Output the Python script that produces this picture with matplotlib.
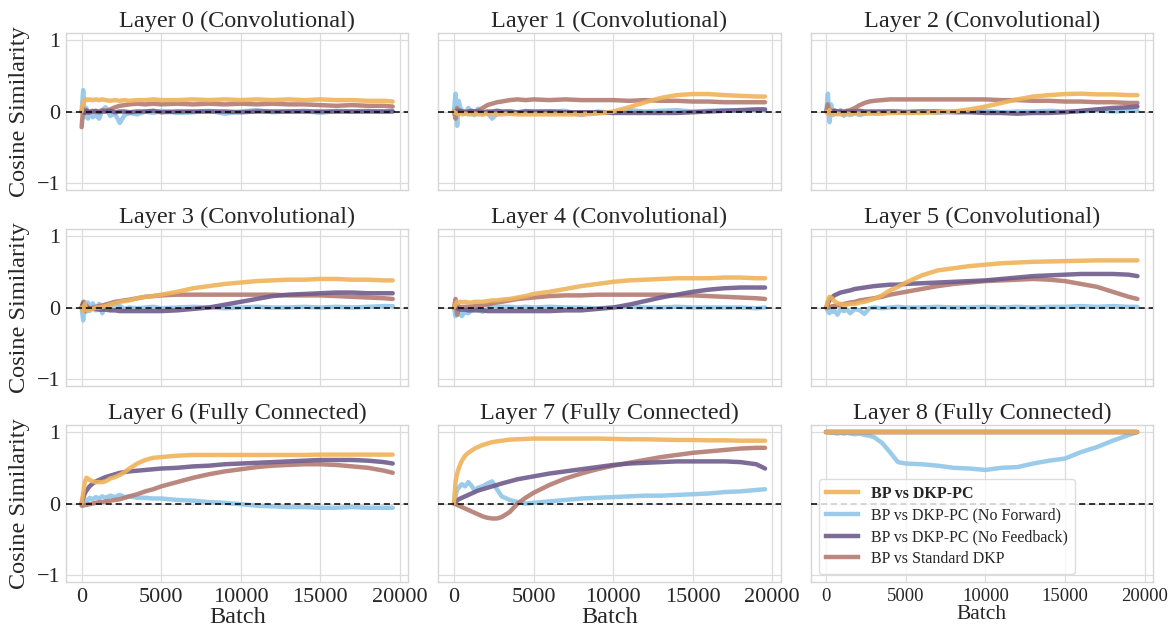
import matplotlib
matplotlib.use("Agg")
import matplotlib.pyplot as plt
from matplotlib.lines import Line2D

plt.rcParams['font.family'] = ['Liberation Serif', 'DejaVu Serif']
plt.rcParams['mathtext.fontset'] = 'stix'

BATCH = [0, 100, 200, 300, 400, 500, 700, 900, 1100, 1300, 1500, 1800, 2100, 2400, 2700,
         3000, 3500, 4000, 4500, 5000, 6000, 7000, 8000, 9000, 10000, 11000, 12000, 13000,
         14000, 15000, 16000, 17000, 18000, 19000, 19550]

TITLES = ["Layer 0 (Convolutional)", "Layer 1 (Convolutional)", "Layer 2 (Convolutional)",
          "Layer 3 (Convolutional)", "Layer 4 (Convolutional)", "Layer 5 (Convolutional)",
          "Layer 6 (Fully Connected)", "Layer 7 (Fully Connected)", "Layer 8 (Fully Connected)"]

SERIES = ["BP vs DKP-PC", "BP vs DKP-PC (No Forward)", "BP vs DKP-PC (No Feedback)", "BP vs Standard DKP"]
COLORS = ["#EFB35A", "#90C6E9", "#6F5C8C", "#B37B70"]

# ---- Layer 0 ----
L0_DKPPC = [0.0, 0.14, 0.16, 0.17, 0.16, 0.17, 0.16, 0.17, 0.16, 0.17, 0.16, 0.15, 0.16, 0.15, 0.16, 0.15, 0.16, 0.16, 0.17, 0.16, 0.16, 0.17, 0.16, 0.17, 0.16, 0.17, 0.16, 0.17, 0.16, 0.17, 0.16, 0.16, 0.15, 0.15, 0.14]
L0_NOFWD = [0.0, 0.30, -0.08, 0.05, -0.10, -0.02, -0.08, -0.05, -0.10, 0.02, 0.06, -0.06, -0.03, -0.16, -0.05, -0.02, -0.04, 0.0, -0.02, 0.01, -0.02, -0.01, 0.01, -0.03, 0.0, 0.02, -0.01, 0.0, 0.01, -0.02, 0.01, 0.0, 0.01, 0.0, 0.01]
L0_NOFB = [0.0, 0.02, -0.02, 0.01, 0.0, -0.01, 0.0, 0.01, -0.01, 0.0, 0.0, 0.01, -0.01, 0.0, 0.0, -0.01, 0.0, 0.0, 0.01, -0.01, 0.0, 0.0, 0.0, 0.0, -0.01, 0.0, 0.0, 0.0, 0.0, 0.0, 0.0, 0.0, 0.0, 0.0, 0.0]
L0_DKP = [-0.22, 0.05, 0.0, 0.02, -0.02, 0.0, 0.01, -0.01, 0.0, 0.02, 0.01, 0.03, 0.06, 0.08, 0.09, 0.10, 0.11, 0.10, 0.11, 0.10, 0.11, 0.10, 0.11, 0.10, 0.11, 0.10, 0.11, 0.10, 0.10, 0.09, 0.08, 0.09, 0.08, 0.08, 0.07]

# ---- Layer 1 ----
L1_DKPPC = [0.0, -0.02, -0.03, -0.04, -0.03, -0.04, -0.03, -0.04, -0.04, -0.03, -0.04, -0.04, -0.03, -0.04, -0.04, -0.04, -0.03, -0.04, -0.04, -0.04, -0.04, -0.04, -0.04, -0.03, 0.0, 0.06, 0.13, 0.19, 0.23, 0.245, 0.245, 0.23, 0.22, 0.21, 0.21]
L1_NOFWD = [0.0, 0.25, -0.20, 0.15, 0.05, 0.02, -0.03, 0.05, -0.02, -0.05, 0.04, -0.04, -0.02, -0.10, -0.03, -0.01, 0.0, -0.02, 0.01, -0.01, 0.0, 0.01, -0.05, 0.0, -0.02, 0.02, 0.0, 0.01, 0.02, 0.0, 0.01, 0.02, 0.01, 0.02, 0.02]
L1_NOFB = [0.0, -0.02, 0.01, 0.0, 0.01, 0.0, -0.01, 0.0, 0.01, 0.0, 0.0, -0.01, 0.0, 0.0, 0.01, 0.0, 0.0, -0.01, 0.0, 0.0, 0.0, -0.01, -0.01, -0.01, -0.02, -0.02, -0.02, -0.02, -0.02, -0.01, 0.0, 0.01, 0.02, 0.03, 0.03]
L1_DKP = [0.0, -0.10, 0.05, 0.0, 0.01, 0.0, 0.0, -0.01, 0.0, 0.0, 0.01, 0.05, 0.09, 0.11, 0.13, 0.14, 0.16, 0.17, 0.16, 0.17, 0.16, 0.17, 0.16, 0.16, 0.16, 0.15, 0.16, 0.15, 0.15, 0.14, 0.14, 0.13, 0.13, 0.13, 0.13]

# ---- Layer 2 ----
L2_DKPPC = [0.0, -0.03, 0.02, -0.04, -0.03, -0.04, -0.03, -0.04, -0.04, -0.03, -0.04, -0.03, -0.03, -0.03, -0.03, -0.03, -0.03, -0.02, -0.02, -0.02, -0.02, -0.01, 0.0, 0.03, 0.07, 0.12, 0.17, 0.21, 0.23, 0.245, 0.25, 0.24, 0.24, 0.23, 0.23]
L2_NOFWD = [0.0, 0.25, -0.15, 0.10, -0.05, 0.02, -0.04, 0.02, -0.06, -0.03, -0.05, -0.02, -0.05, -0.03, -0.01, -0.02, -0.01, 0.0, -0.01, 0.0, 0.0, -0.02, 0.0, 0.0, 0.01, -0.01, 0.0, 0.0, 0.01, 0.0, 0.0, 0.02, 0.0, 0.01, 0.01]
L2_NOFB = [0.0, 0.01, -0.01, 0.0, 0.0, 0.01, 0.0, 0.0, -0.01, 0.0, 0.0, 0.0, 0.01, 0.0, 0.0, 0.0, 0.0, 0.0, 0.0, -0.01, 0.0, 0.0, -0.01, -0.01, -0.02, -0.02, -0.03, -0.02, -0.02, -0.01, 0.01, 0.03, 0.05, 0.06, 0.07]
L2_DKP = [0.0, 0.10, -0.03, 0.02, 0.0, 0.01, 0.0, 0.0, 0.0, 0.01, 0.02, 0.05, 0.09, 0.12, 0.14, 0.15, 0.16, 0.17, 0.17, 0.17, 0.17, 0.17, 0.17, 0.17, 0.17, 0.16, 0.16, 0.15, 0.15, 0.14, 0.14, 0.13, 0.13, 0.12, 0.12]

# ---- Layer 3 ----
L3_DKPPC = [0.0, -0.05, 0.05, -0.03, -0.04, -0.02, -0.02, 0.0, 0.0, 0.01, 0.02, 0.04, 0.06, 0.08, 0.09, 0.10, 0.13, 0.15, 0.16, 0.18, 0.22, 0.27, 0.30, 0.33, 0.35, 0.37, 0.38, 0.39, 0.39, 0.40, 0.40, 0.39, 0.39, 0.38, 0.38]
L3_NOFWD = [0.0, -0.18, 0.08, -0.06, 0.07, -0.05, 0.06, -0.04, 0.05, -0.08, 0.04, -0.03, 0.05, 0.02, -0.02, 0.0, -0.01, 0.0, 0.01, -0.01, 0.0, 0.01, 0.0, -0.01, 0.0, 0.01, 0.0, 0.0, 0.01, 0.0, 0.01, 0.0, 0.01, 0.02, 0.02]
L3_NOFB = [0.0, 0.05, -0.03, 0.0, -0.01, -0.01, -0.02, -0.02, -0.03, -0.03, -0.03, -0.04, -0.04, -0.05, -0.05, -0.05, -0.05, -0.05, -0.05, -0.05, -0.04, -0.02, 0.0, 0.04, 0.08, 0.12, 0.16, 0.18, 0.19, 0.20, 0.21, 0.21, 0.20, 0.20, 0.20]
L3_DKP = [0.0, 0.08, -0.05, 0.03, 0.0, -0.02, 0.0, 0.01, 0.02, 0.03, 0.04, 0.06, 0.08, 0.09, 0.10, 0.11, 0.13, 0.15, 0.16, 0.17, 0.18, 0.18, 0.18, 0.18, 0.18, 0.18, 0.18, 0.17, 0.17, 0.17, 0.16, 0.15, 0.14, 0.13, 0.12]

# ---- Layer 4 ----
L4_DKPPC = [0.0, 0.04, 0.08, 0.07, 0.08, 0.07, 0.08, 0.07, 0.07, 0.08, 0.08, 0.08, 0.09, 0.10, 0.10, 0.11, 0.12, 0.14, 0.16, 0.19, 0.22, 0.26, 0.30, 0.33, 0.36, 0.38, 0.39, 0.40, 0.41, 0.41, 0.41, 0.42, 0.42, 0.41, 0.41]
L4_NOFWD = [0.0, -0.12, -0.05, -0.10, -0.08, -0.12, -0.06, -0.08, -0.04, -0.02, -0.03, -0.06, -0.02, 0.02, 0.01, 0.01, 0.01, 0.0, 0.01, 0.0, 0.01, 0.0, 0.0, -0.01, 0.0, 0.01, 0.0, 0.0, 0.01, 0.0, 0.0, 0.0, 0.0, -0.01, 0.0]
L4_NOFB = [0.0, 0.02, -0.01, -0.02, -0.03, -0.03, -0.03, -0.04, -0.04, -0.04, -0.04, -0.04, -0.05, -0.05, -0.05, -0.05, -0.05, -0.05, -0.05, -0.05, -0.05, -0.04, -0.04, -0.02, 0.0, 0.04, 0.09, 0.14, 0.18, 0.22, 0.25, 0.27, 0.28, 0.28, 0.28]
L4_DKP = [0.0, 0.12, -0.10, 0.02, 0.0, 0.0, 0.01, 0.01, 0.02, 0.02, 0.02, 0.03, 0.04, 0.06, 0.07, 0.08, 0.10, 0.12, 0.13, 0.14, 0.16, 0.17, 0.17, 0.18, 0.18, 0.18, 0.18, 0.18, 0.17, 0.17, 0.16, 0.15, 0.14, 0.13, 0.12]

# ---- Layer 5 ----
L5_DKPPC = [0.0, 0.10, 0.15, 0.14, 0.12, 0.09, 0.06, 0.05, 0.04, 0.04, 0.05, 0.05, 0.07, 0.08, 0.10, 0.12, 0.17, 0.24, 0.29, 0.35, 0.45, 0.52, 0.55, 0.58, 0.60, 0.62, 0.63, 0.64, 0.645, 0.65, 0.655, 0.66, 0.66, 0.66, 0.66]
L5_NOFWD = [0.0, -0.05, -0.08, -0.03, -0.06, -0.04, -0.10, -0.02, -0.05, -0.03, -0.08, -0.02, -0.04, -0.09, -0.01, 0.0, -0.01, 0.0, 0.01, 0.0, 0.0, 0.01, 0.0, 0.0, 0.01, 0.0, 0.01, 0.0, 0.01, 0.01, 0.02, 0.01, 0.02, 0.01, 0.01]
L5_NOFB = [0.0, 0.06, 0.10, 0.13, 0.15, 0.17, 0.19, 0.21, 0.22, 0.23, 0.24, 0.26, 0.27, 0.28, 0.29, 0.30, 0.31, 0.32, 0.32, 0.33, 0.34, 0.35, 0.36, 0.37, 0.38, 0.40, 0.42, 0.44, 0.45, 0.46, 0.47, 0.47, 0.47, 0.46, 0.44]
L5_DKP = [0.0, 0.0, 0.01, 0.01, 0.02, 0.02, 0.03, 0.04, 0.05, 0.06, 0.07, 0.08, 0.10, 0.11, 0.12, 0.13, 0.15, 0.18, 0.20, 0.22, 0.26, 0.30, 0.33, 0.35, 0.37, 0.38, 0.39, 0.40, 0.39, 0.37, 0.33, 0.29, 0.22, 0.15, 0.12]

# ---- Layer 6 ----
L6_DKPPC = [0.0, 0.15, 0.30, 0.36, 0.35, 0.33, 0.31, 0.30, 0.30, 0.30, 0.31, 0.35, 0.37, 0.40, 0.44, 0.49, 0.56, 0.61, 0.64, 0.65, 0.67, 0.68, 0.68, 0.68, 0.68, 0.68, 0.68, 0.68, 0.68, 0.685, 0.685, 0.685, 0.685, 0.685, 0.685]
L6_NOFWD = [0.0, 0.02, 0.06, 0.04, 0.05, 0.08, 0.06, 0.09, 0.07, 0.10, 0.08, 0.11, 0.09, 0.12, 0.09, 0.10, 0.08, 0.08, 0.07, 0.07, 0.05, 0.04, 0.02, 0.01, -0.01, -0.03, -0.04, -0.05, -0.05, -0.06, -0.06, -0.05, -0.06, -0.06, -0.06]
L6_NOFB = [0.0, 0.08, 0.14, 0.18, 0.21, 0.24, 0.28, 0.31, 0.33, 0.35, 0.37, 0.39, 0.41, 0.43, 0.44, 0.45, 0.46, 0.47, 0.48, 0.49, 0.50, 0.52, 0.53, 0.55, 0.56, 0.57, 0.58, 0.59, 0.60, 0.61, 0.61, 0.61, 0.60, 0.58, 0.56]
L6_DKP = [-0.03, -0.03, -0.02, -0.02, -0.01, -0.01, 0.0, 0.01, 0.02, 0.02, 0.03, 0.04, 0.05, 0.06, 0.08, 0.10, 0.13, 0.17, 0.20, 0.24, 0.30, 0.36, 0.41, 0.45, 0.48, 0.51, 0.53, 0.54, 0.55, 0.55, 0.54, 0.52, 0.50, 0.46, 0.43]

# ---- Layer 7 ----
L7_DKPPC = [0.0, 0.30, 0.42, 0.49, 0.55, 0.60, 0.67, 0.71, 0.74, 0.77, 0.79, 0.82, 0.84, 0.86, 0.87, 0.88, 0.895, 0.90, 0.905, 0.91, 0.91, 0.91, 0.91, 0.91, 0.905, 0.90, 0.90, 0.895, 0.89, 0.89, 0.885, 0.885, 0.88, 0.88, 0.88]
L7_NOFWD = [0.0, 0.10, 0.20, 0.22, 0.25, 0.27, 0.24, 0.30, 0.25, 0.18, 0.22, 0.24, 0.28, 0.31, 0.20, 0.10, 0.05, 0.02, 0.0, 0.01, 0.03, 0.05, 0.07, 0.08, 0.09, 0.10, 0.11, 0.11, 0.12, 0.13, 0.14, 0.16, 0.17, 0.19, 0.20]
L7_NOFB = [0.0, 0.02, 0.04, 0.06, 0.07, 0.08, 0.10, 0.12, 0.14, 0.16, 0.18, 0.20, 0.22, 0.24, 0.26, 0.28, 0.31, 0.34, 0.36, 0.38, 0.42, 0.45, 0.48, 0.51, 0.54, 0.56, 0.57, 0.58, 0.59, 0.59, 0.59, 0.59, 0.58, 0.55, 0.49]
L7_DKP = [0.0, -0.01, -0.02, -0.03, -0.04, -0.05, -0.07, -0.09, -0.11, -0.13, -0.15, -0.18, -0.20, -0.21, -0.21, -0.19, -0.12, 0.0, 0.08, 0.15, 0.26, 0.35, 0.42, 0.48, 0.53, 0.57, 0.61, 0.65, 0.68, 0.71, 0.73, 0.75, 0.77, 0.78, 0.78]

# ---- Layer 8 ----
L8_DKPPC = [1.0] * 35
L8_NOFWD = [1.0, 1.0, 1.0, 0.99, 1.0, 0.99, 0.98, 0.99, 0.98, 0.99, 0.98, 0.97, 0.98, 0.96, 0.95, 0.93, 0.85, 0.72, 0.58, 0.56, 0.55, 0.53, 0.50, 0.49, 0.47, 0.50, 0.51, 0.56, 0.60, 0.63, 0.72, 0.79, 0.88, 0.96, 1.0]
L8_NOFB = [1.0] * 35
L8_DKP = [1.0] * 35

LAYERS = [
    (L0_DKPPC, L0_NOFWD, L0_NOFB, L0_DKP),
    (L1_DKPPC, L1_NOFWD, L1_NOFB, L1_DKP),
    (L2_DKPPC, L2_NOFWD, L2_NOFB, L2_DKP),
    (L3_DKPPC, L3_NOFWD, L3_NOFB, L3_DKP),
    (L4_DKPPC, L4_NOFWD, L4_NOFB, L4_DKP),
    (L5_DKPPC, L5_NOFWD, L5_NOFB, L5_DKP),
    (L6_DKPPC, L6_NOFWD, L6_NOFB, L6_DKP),
    (L7_DKPPC, L7_NOFWD, L7_NOFB, L7_DKP),
    (L8_DKPPC, L8_NOFWD, L8_NOFB, L8_DKP),
]

TITLE_FS = 17.5
YLAB_FS = 17.5
XLAB_FS = 17.5
TICK_FS = 16
fig, axes = plt.subplots(3, 3, figsize=(11.69, 6.31), dpi=100, sharex=True, sharey=True)
fig.subplots_adjust(left=0.0565, right=0.9863, top=0.9477, bottom=0.0776, wspace=0.088, hspace=0.248)

draw_order = [1, 3, 2, 0]
for i, ax in enumerate(axes.flat):
    data = LAYERS[i]
    for k in draw_order:
        ax.plot(BATCH, data[k], color=COLORS[k], lw=3.2, alpha=0.9, solid_capstyle='round', zorder=2 + (k == 0))
    ax.axhline(0, color='black', lw=1.1, ls=(0, (4, 2.5)), zorder=4)
    ax.set_title(TITLES[i], fontsize=TITLE_FS, color='#262626', pad=4)
    ax.set_ylim(-1.1, 1.1)
    ax.set_yticks([-1, 0, 1])
    ax.set_yticklabels(['\u22121', '0', '1'])
    ax.set_xticks([0, 5000, 10000, 15000, 20000])
    ax.grid(True, color='#dcdcdc', lw=0.9)
    ax.set_axisbelow(True)
    for s in ax.spines.values():
        s.set_color('#d6d6d6')
        s.set_linewidth(1.0)
    ax.tick_params(axis='both', length=0, labelsize=TICK_FS, colors='#262626', pad=4)
    if i % 3 == 0:
        ax.set_ylabel("Cosine Similarity", fontsize=YLAB_FS, color='#262626', labelpad=5)
    if i >= 6:
        ax.set_xlabel("Batch", fontsize=XLAB_FS if i < 8 else 15.5, color='#262626', labelpad=0)
        ax.xaxis.set_tick_params(labelbottom=True)

axes[2, 2].tick_params(axis='x', labelsize=13.5)

handles = [Line2D([0], [0], color=COLORS[k], lw=3.2, alpha=0.9) for k in range(4)]
leg = axes[2, 2].legend(handles, SERIES, loc='lower left', fontsize=11.5, frameon=True,
                        handlelength=2.0, borderpad=0.45, labelspacing=0.35, fancybox=True)
leg.get_frame().set_edgecolor('#d6d6d6')
leg.get_frame().set_alpha(0.8)
for t in leg.get_texts():
    t.set_color('#262626')
leg.get_texts()[0].set_fontweight('bold')

fig.savefig("out.png", dpi=100)
